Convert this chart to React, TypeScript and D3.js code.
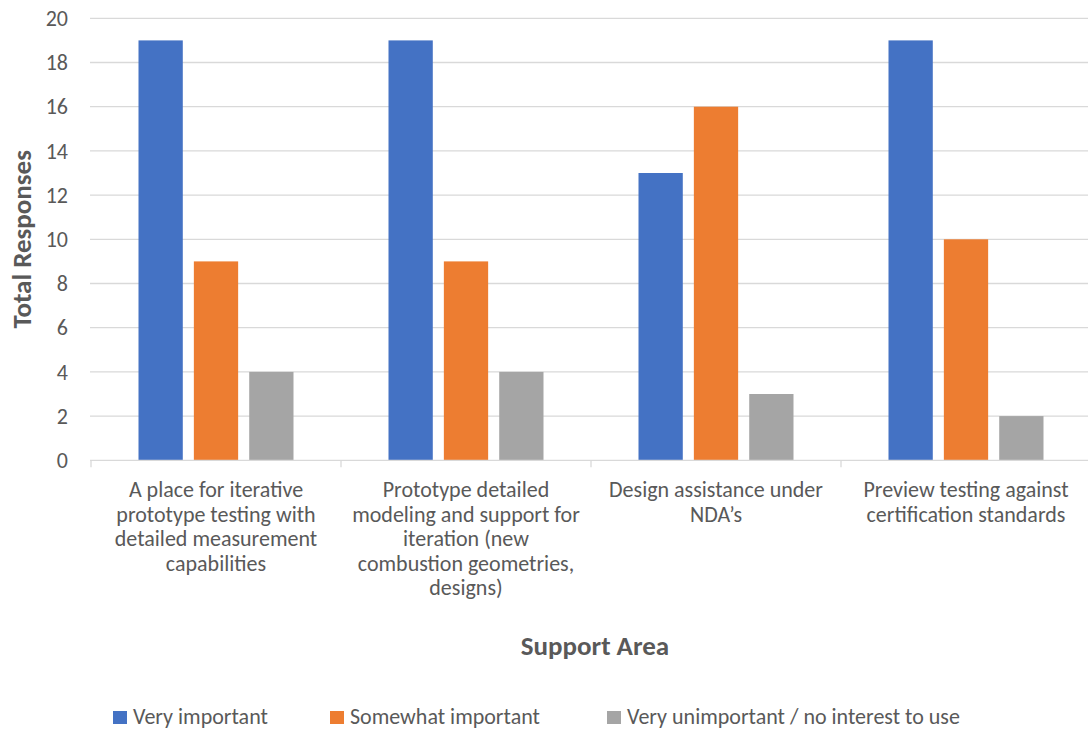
import React, { useEffect, useRef } from "react";
import * as d3 from "d3";

const categories = [
  "A place for iterative\nprototype testing with\ndetailed measurement\ncapabilities",
  "Prototype detailed\nmodeling and support for\niteration (new\ncombustion geometries,\ndesigns)",
  "Design assistance under\nNDA’s",
  "Preview testing against\ncertification standards",
];
const seriesNames = [
  "Very important",
  "Somewhat important",
  "Very unimportant / no interest to use",
];
const veryImportant = [19, 19, 13, 19];
const somewhatImportant = [9, 9, 16, 10];
const veryUnimportant = [4, 4, 3, 2];
const yTicks = [0, 2, 4, 6, 8, 10, 12, 14, 16, 18, 20];
const colors = ["#4472C4", "#ED7D31", "#A5A5A5"];

const FONT = "Calibri, Carlito, Lato, 'Open Sans', sans-serif";
const TEXT = "#595959";

export default function App() {
  const ref = useRef<SVGSVGElement>(null);

  useEffect(() => {
    const svg = d3.select(ref.current);
    svg.selectAll("*").remove();

    const left = 91, right = 1091, top = 18.3, bottom = 460.3;
    const values = [veryImportant, somewhatImportant, veryUnimportant];

    const x0 = d3.scaleBand<number>()
      .domain(categories.map((_, i) => i))
      .range([left, right]);
    const groupPad = (x0.bandwidth() - 155) / 2;
    const x1 = d3.scaleBand<number>()
      .domain(seriesNames.map((_, i) => i))
      .range([groupPad, x0.bandwidth() - groupPad])
      .paddingInner(0.2);
    const y = d3.scaleLinear().domain([0, 20]).range([bottom, top]);

    // gridlines
    svg.append("g")
      .selectAll("line")
      .data(yTicks.filter((t) => t > 0))
      .join("line")
      .attr("x1", left - 1)
      .attr("x2", right)
      .attr("y1", (d) => y(d))
      .attr("y2", (d) => y(d))
      .attr("stroke", "#D9D9D9")
      .attr("stroke-width", 1.3);

    // y tick labels
    svg.append("g")
      .selectAll("text")
      .data(yTicks)
      .join("text")
      .attr("x", 68)
      .attr("y", (d) => y(d))
      .attr("dy", "0.35em")
      .attr("text-anchor", "end")
      .attr("font-family", FONT)
      .attr("font-size", 22)
      .attr("fill", TEXT)
      .text((d) => d);

    // bars
    const groups = svg.append("g")
      .selectAll("g")
      .data(categories.map((_, i) => i))
      .join("g")
      .attr("transform", (i) => `translate(${x0(i)},0)`);
    groups.selectAll("rect")
      .data((i) => values.map((s, k) => ({ k, v: s[i] })))
      .join("rect")
      .attr("x", (d) => x1(d.k)!)
      .attr("width", x1.bandwidth())
      .attr("y", (d) => y(d.v))
      .attr("height", (d) => y(0) - y(d.v))
      .attr("fill", (d) => colors[d.k]);

    // x axis line and category separators
    const axis = svg.append("g").attr("stroke", "#D9D9D9").attr("stroke-width", 1.3);
    axis.append("line")
      .attr("x1", left - 1).attr("x2", right)
      .attr("y1", bottom).attr("y2", bottom);
    axis.selectAll("line.tick")
      .data(d3.range(categories.length + 1))
      .join("line")
      .attr("class", "tick")
      .attr("x1", (i) => left + i * x0.step())
      .attr("x2", (i) => left + i * x0.step())
      .attr("y1", bottom)
      .attr("y2", bottom + 7);

    // category labels
    const labels = svg.append("g")
      .selectAll("text")
      .data(categories.map((c, i) => ({ c, i })))
      .join("text")
      .attr("text-anchor", "middle")
      .attr("font-family", FONT)
      .attr("font-size", 22)
      .attr("fill", TEXT);
    labels.selectAll("tspan")
      .data((d) => d.c.split("\n").map((line, j) => ({ line, j, i: d.i })))
      .join("tspan")
      .attr("x", (d) => x0(d.i)! + x0.bandwidth() / 2)
      .attr("y", (d) => 497 + d.j * 24.6)
      .text((d) => d.line);

    // axis titles
    svg.append("text")
      .attr("x", 595)
      .attr("y", 655)
      .attr("text-anchor", "middle")
      .attr("font-family", FONT)
      .attr("font-size", 27)
      .attr("font-weight", "bold")
      .attr("fill", TEXT)
      .text("Support Area");
    svg.append("text")
      .attr("transform", `translate(31,${(top + bottom) / 2}) rotate(-90)`)
      .attr("text-anchor", "middle")
      .attr("font-family", FONT)
      .attr("font-size", 27)
      .attr("font-weight", "bold")
      .attr("fill", TEXT)
      .text("Total Responses");

    // legend
    const legendX = [113, 330, 607];
    const legend = svg.append("g")
      .selectAll("g")
      .data(seriesNames.map((n, k) => ({ n, k })))
      .join("g")
      .attr("transform", (d) => `translate(${legendX[d.k]},711)`);
    legend.append("rect")
      .attr("width", 14)
      .attr("height", 13)
      .attr("fill", (d) => colors[d.k]);
    legend.append("text")
      .attr("x", 20)
      .attr("y", 12.5)
      .attr("font-family", FONT)
      .attr("font-size", 22)
      .attr("fill", TEXT)
      .text((d) => d.n);
  }, []);

  return (
    <svg
      ref={ref}
      width={1088}
      height={729}
      style={{ position: "absolute", left: 0, top: 0, background: "#fff" }}
    />
  );
}
